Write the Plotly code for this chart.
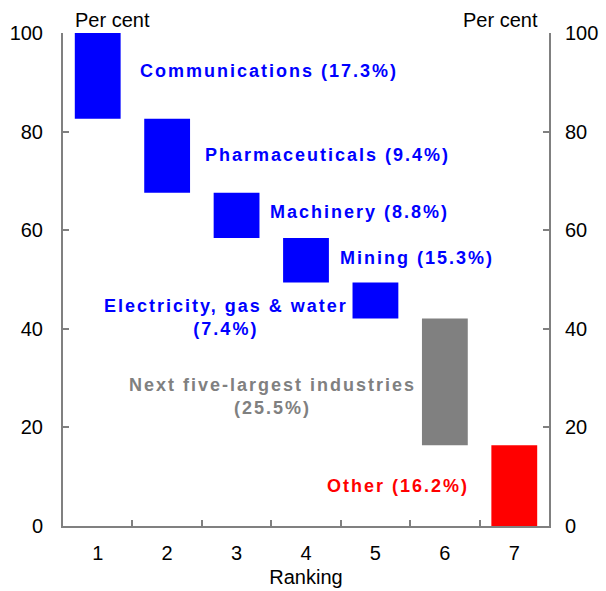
import plotly.graph_objects as go

ranking = [1, 2, 3, 4, 5, 6, 7]
shares = [17.4, 15.0, 9.2, 9.0, 7.3, 25.7, 16.4]
bar_colors = ["#0000FF", "#0000FF", "#0000FF", "#0000FF", "#0000FF", "#808080", "#FF0000"]

label_texts = [
    "Communications (17.3%)",
    "Pharmaceuticals (9.4%)",
    "Machinery (8.8%)",
    "Mining (15.3%)",
    "Electricity, gas & water<br>(7.4%)",
    "Next five-largest industries<br>(25.5%)",
    "Other (16.2%)",
]
label_x = [1.58, 2.52, 3.45, 4.46, 2.85, 3.52, 4.27]
label_y = [92.3, 75.3, 63.7, 54.4, 42.2, 26.2, 8.1]
label_anchor = ["left", "left", "left", "left", "center", "center", "left"]
label_colors = ["#0000FF", "#0000FF", "#0000FF", "#0000FF", "#0000FF", "#808080", "#FF0000"]

# cumulative bases (top-down waterfall)
bases = []
top = 100.0
for s in shares:
    bases.append(top - s)
    top -= s

FONT = "Liberation Sans, Arial, sans-serif"
AX = "#808080"

fig = go.Figure()
fig.add_trace(go.Bar(
    x=ranking, y=shares, base=bases, width=0.66,
    marker=dict(color=bar_colors, line=dict(width=0)),
    showlegend=False, hoverinfo="skip",
))
# invisible trace to create right axis
fig.add_trace(go.Scatter(x=[1], y=[0], yaxis="y2", mode="markers",
                         marker=dict(opacity=0), showlegend=False, hoverinfo="skip"))

for t, x, y, a, c in zip(label_texts, label_x, label_y, label_anchor, label_colors):
    fig.add_annotation(x=x, y=y, text="<b>" + t + "</b>", showarrow=False,
                       xanchor=a, yanchor="middle",
                       align="left" if a == "left" else "center",
                       font=dict(family=FONT, size=18, color=c))

fig.add_annotation(xref="paper", yref="paper", x=0.02, y=1.0, text="Per cent",
                   showarrow=False, xanchor="left", yanchor="bottom",
                   font=dict(family=FONT, size=20, color="black"))
fig.add_annotation(xref="paper", yref="paper", x=0.981, y=1.0, text="Per cent",
                   showarrow=False, xanchor="right", yanchor="bottom",
                   font=dict(family=FONT, size=20, color="black"))

yax = dict(range=[0, 100], tickvals=[0, 20, 40, 60, 80, 100], ticks="inside",
           ticklen=6, tickcolor=AX, tickwidth=1.5, showline=True, linecolor=AX,
           linewidth=2, showgrid=False, zeroline=False,
           tickfont=dict(family=FONT, size=20, color="black"),
           fixedrange=True, automargin=False)

fig.update_layout(
    width=606, height=591,
    margin=dict(l=63, r=57, t=33, b=65),
    paper_bgcolor="white", plot_bgcolor="white",
    xaxis=dict(range=[0.5, 7.5], tickvals=ranking, ticks="", showline=True,
               linecolor=AX, linewidth=2, showgrid=False, zeroline=False,
               tickfont=dict(family=FONT, size=20, color="black"),
               minor=dict(tickvals=[1.5, 2.5, 3.5, 4.5, 5.5, 6.5], ticks="inside",
                          ticklen=6, tickcolor=AX, tickwidth=1.5, showgrid=False),
               title=dict(text="Ranking", font=dict(family=FONT, size=20, color="black"),
                          standoff=7),
               ticklabelstandoff=8, automargin=False, fixedrange=True),
    yaxis=dict(side="left", ticklabelstandoff=14, **yax),
    yaxis2=dict(side="right", overlaying="y", ticklabelstandoff=10, **yax),
)

post = """
document.body.style.margin = '0';
document.querySelectorAll('.annotation-text').forEach(function (el) {
  if (el.textContent.indexOf('Per cent') < 0) { el.style.letterSpacing = '2px'; }
});
"""

fig.write_html("out.html", post_script=post, config={"displayModeBar": False})
